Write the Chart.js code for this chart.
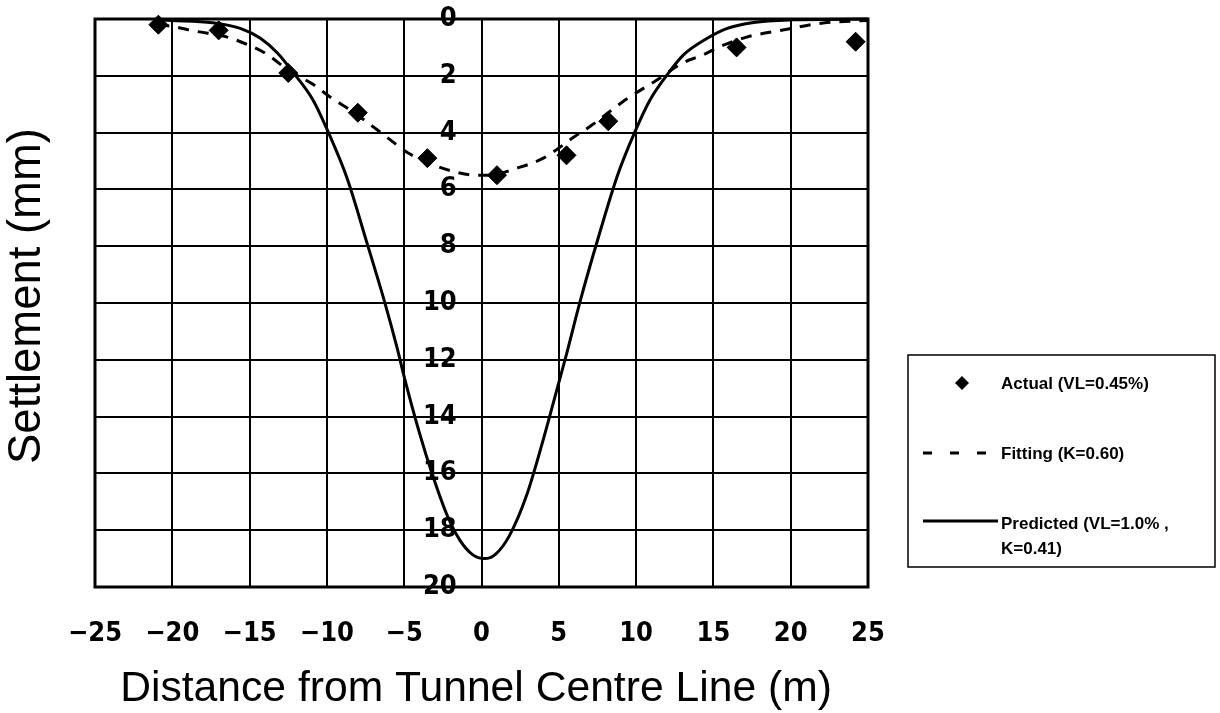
<!DOCTYPE html>
<html>
<head>
<meta charset="utf-8">
<script src="https://cdn.jsdelivr.net/npm/chart.js@4.4.1/dist/chart.umd.min.js"></script>
<style>
  html, body { margin: 0; padding: 0; background: #fff; }
</style>
</head>
<body>
<canvas id="grafico" width="1220" height="713"></canvas>
<script>
// Dados
const actualX = [-20.9, -17.0, -12.5, -8.0, -3.5, 1.0, 5.5, 8.2, 16.5, 24.2];
const actualY = [0.2, 0.4, 1.9, 3.3, 4.9, 5.5, 4.8, 3.6, 1.0, 0.8];

const fittingX = [-20.9, -19.8, -18.6, -16.5, -14.8, -13.8, -12.5, -10.9, -9.7, -8.5, -6.75, -5.8, -4.8, -2.8, -1.6, -0.4, 0.5, 2.3, 4.0, 6.0, 7.1, 9.1, 10.1, 11.4, 13.0, 14.3, 15.4, 17.2, 19.5, 22.1, 25.0];
const fittingY = [0.2, 0.28, 0.42, 0.63, 0.98, 1.27, 1.8, 2.3, 2.78, 3.2, 3.9, 4.3, 4.7, 5.2, 5.4, 5.5, 5.5, 5.25, 4.9, 4.15, 3.75, 2.93, 2.57, 2.13, 1.55, 1.27, 0.98, 0.63, 0.39, 0.14, 0.05];

const predictedX = [-20.9, -20.1, -17.4, -15.6, -14.3, -13.2, -12.2, -10.9, -9.9, -8.7, -7.4, -6.3, -5.45, -5.0, -4.0, -3.2, -2.2, -1.4, -0.6, 0.2, 0.9, 1.8, 2.9, 4.0, 5.0, 5.5, 6.4, 7.5, 8.8, 9.9, 10.9, 12.0, 13.05, 14.6, 15.9, 17.6, 20.0, 25.0];
const predictedY = [0.03, 0.05, 0.13, 0.33, 0.68, 1.2, 1.87, 2.85, 4.0, 5.6, 7.9, 9.9, 11.6, 12.6, 14.6, 16.0, 17.5, 18.35, 18.85, 19.0, 18.85, 18.2, 16.8, 14.8, 12.8, 11.8, 9.9, 7.8, 5.5, 4.0, 2.85, 1.97, 1.27, 0.68, 0.33, 0.12, 0.03, 0.0];

const xTickValues = [-25, -20, -15, -10, -5, 0, 5, 10, 15, 20, 25];
const xTickLabels = ['−25', '−20', '−15', '−10', '−5', '0', '5', '10', '15', '20', '25'];
const yTickValues = [0, 2, 4, 6, 8, 10, 12, 14, 16, 18, 20];
const yTickLabels = ['0', '2', '4', '6', '8', '10', '12', '14', '16', '18', '20'];

const legendLabels = ['Actual (VL=0.45%)', 'Fitting (K=0.60)', 'Predicted (VL=1.0% ,', 'K=0.41)'];
const xTitle = 'Distance from Tunnel Centre Line (m)';
const yTitle = 'Settlement (mm)';

const fonteNum = "'Liberation Sans Narrow', 'DejaVu Sans Condensed', 'Liberation Sans', sans-serif";
const fonteTxt = "'Liberation Sans', 'DejaVu Sans', sans-serif";

function pontos(xs, ys) {
  return xs.map((x, i) => ({ x: x, y: ys[i] }));
}

// Moldura grossa em volta da área do gráfico
const molduraPlugin = {
  id: 'moldura',
  beforeDatasetsDraw(chart) {
    const { ctx, chartArea: a } = chart;
    ctx.save();
    ctx.strokeStyle = '#000';
    ctx.lineWidth = 3;
    ctx.strokeRect(a.left, a.top, a.right - a.left, a.bottom - a.top);
    ctx.restore();
  }
};

// Títulos dos eixos, ajustados à largura
function textoAjustado(ctx, texto, largura, base) {
  ctx.font = base + 'px ' + fonteTxt;
  const w = ctx.measureText(texto).width;
  const tam = base * largura / w;
  ctx.font = tam + 'px ' + fonteTxt;
}

const titulosPlugin = {
  id: 'titulos',
  afterDraw(chart) {
    const ctx = chart.ctx;
    ctx.save();
    ctx.fillStyle = '#000';
    ctx.textAlign = 'center';
    ctx.textBaseline = 'middle';
    textoAjustado(ctx, xTitle, 712, 34);
    ctx.fillText(xTitle, 476, 689);
    ctx.translate(27, 296);
    ctx.rotate(-Math.PI / 2);
    textoAjustado(ctx, yTitle, 336, 34);
    ctx.fillText(yTitle, 0, 0);
    ctx.restore();
  }
};

// Legenda em caixa à direita
const legendaPlugin = {
  id: 'legenda',
  afterDraw(chart) {
    const ctx = chart.ctx;
    ctx.save();
    ctx.fillStyle = '#fff';
    ctx.fillRect(908, 355, 307, 212);
    ctx.strokeStyle = '#000';
    ctx.lineWidth = 1.5;
    ctx.strokeRect(908, 355, 307, 212);

    // diamante
    ctx.fillStyle = '#000';
    ctx.beginPath();
    ctx.moveTo(962, 376);
    ctx.lineTo(969, 383);
    ctx.lineTo(962, 390);
    ctx.lineTo(955, 383);
    ctx.closePath();
    ctx.fill();

    // tracejado
    ctx.lineWidth = 3;
    ctx.strokeStyle = '#000';
    ctx.setLineDash([9, 18]);
    ctx.beginPath();
    ctx.moveTo(923, 453);
    ctx.lineTo(988, 453);
    ctx.stroke();

    // linha contínua
    ctx.setLineDash([]);
    ctx.beginPath();
    ctx.moveTo(923, 521);
    ctx.lineTo(998, 521);
    ctx.stroke();

    ctx.font = 'bold 17px ' + fonteTxt;
    ctx.textAlign = 'left';
    ctx.textBaseline = 'middle';
    ctx.fillText(legendLabels[0], 1001, 384);
    ctx.fillText(legendLabels[1], 1001, 454);
    ctx.fillText(legendLabels[2], 1001, 524);
    ctx.fillText(legendLabels[3], 1001, 549);
    ctx.restore();
  }
};

const ctx = document.getElementById('grafico').getContext('2d');
const grafico = new Chart(ctx, {
  type: 'scatter',
  data: {
    datasets: [
      {
        label: legendLabels[0],
        data: pontos(actualX, actualY),
        pointStyle: 'rectRot',
        pointRadius: 9.5,
        pointBackgroundColor: '#000',
        pointBorderColor: '#000',
        pointBorderWidth: 1,
        showLine: false,
        clip: false,
        order: 0
      },
      {
        label: legendLabels[1],
        data: pontos(fittingX, fittingY),
        showLine: true,
        borderColor: '#000',
        borderWidth: 3,
        borderDash: [11, 9],
        pointRadius: 0,
        cubicInterpolationMode: 'monotone',
        clip: false,
        order: 1
      },
      {
        label: 'Predicted (VL=1.0% , K=0.41)',
        data: pontos(predictedX, predictedY),
        showLine: true,
        borderColor: '#000',
        borderWidth: 3,
        pointRadius: 0,
        cubicInterpolationMode: 'monotone',
        clip: false,
        order: 2
      }
    ]
  },
  options: {
    responsive: false,
    animation: false,
    layout: { padding: { left: 95, right: 352, top: 19, bottom: 0 } },
    plugins: {
      legend: { display: false },
      tooltip: { enabled: false }
    },
    scales: {
      x: {
        type: 'linear',
        position: 'bottom',
        min: -25,
        max: 25,
        ticks: {
          stepSize: 5,
          padding: 31,
          color: '#000',
          font: { family: fonteNum, size: 27, weight: 'bold' },
          callback: v => {
            const i = xTickValues.indexOf(v);
            return i >= 0 ? xTickLabels[i] : '';
          }
        },
        grid: { color: '#000', lineWidth: 2, drawTicks: false },
        border: { display: false },
        afterFit(scale) { scale.height = 126; }
      },
      y: {
        type: 'linear',
        // rótulos à esquerda da linha central
        position: { x: -1.6 },
        reverse: true,
        min: 0,
        max: 20,
        ticks: {
          stepSize: 2,
          padding: 0,
          color: '#000',
          font: { family: fonteNum, size: 27, weight: 'bold' },
          callback: v => {
            const i = yTickValues.indexOf(v);
            return i >= 0 ? yTickLabels[i] : '';
          }
        },
        grid: { color: '#000', lineWidth: 2, drawTicks: false },
        border: { display: false },
        afterFit(scale) {
          scale.paddingTop = 0;
          scale.paddingBottom = 0;
        }
      }
    }
  },
  plugins: [molduraPlugin, titulosPlugin, legendaPlugin]
});
</script>
</body>
</html>
